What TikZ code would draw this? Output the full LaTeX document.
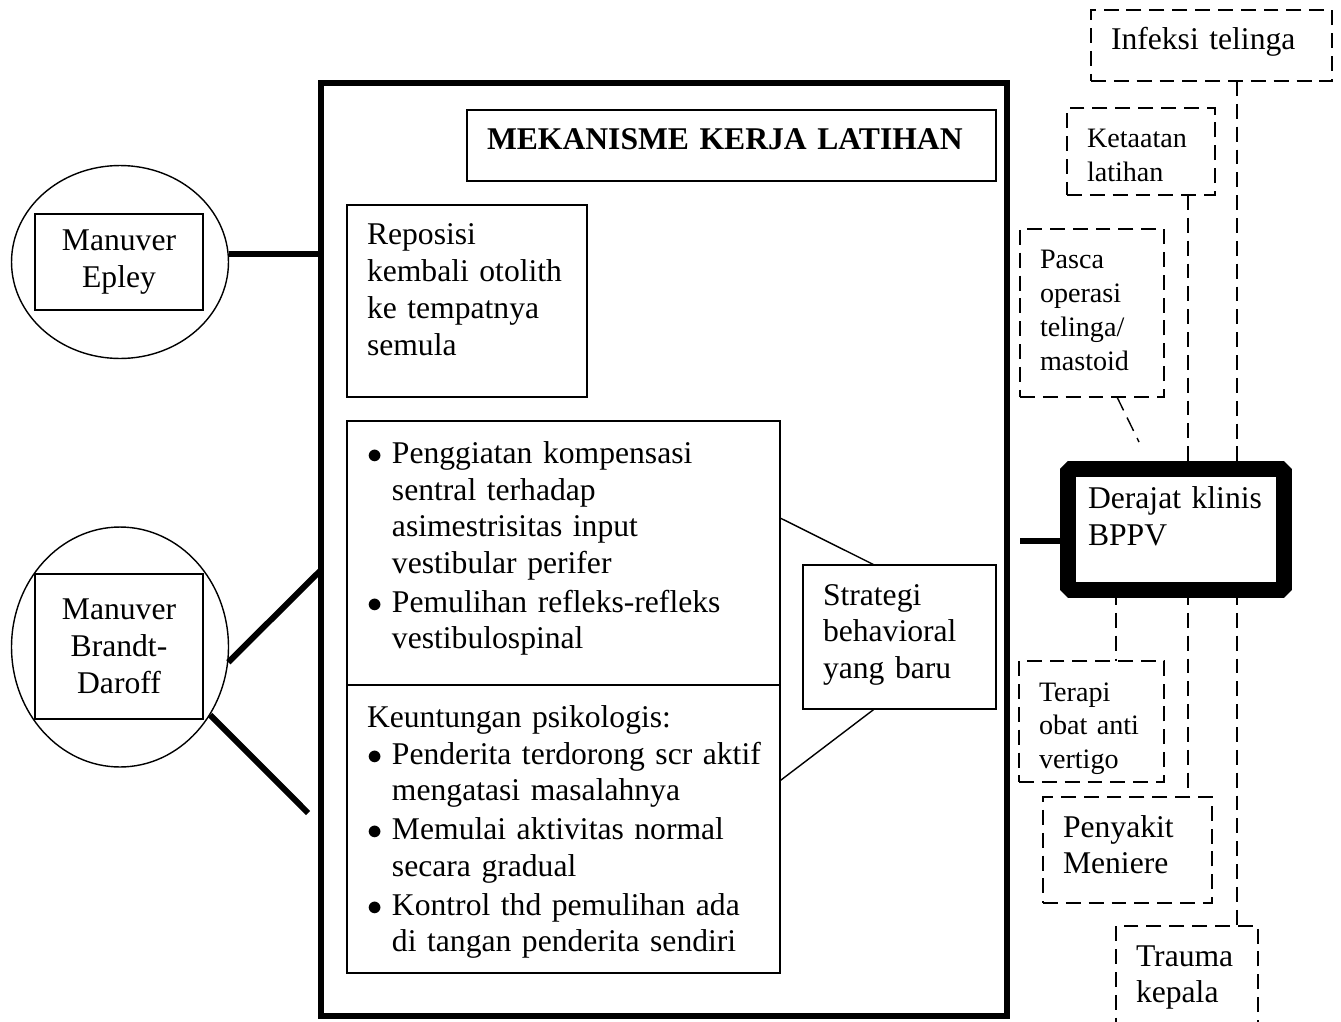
\documentclass[tikz,border=0pt]{standalone}
\usepackage{fontspec}
\setmainfont{Liberation Serif}
\usetikzlibrary{calc,shapes.geometric}
\newcommand{\bul}{\makebox[0.5cm][l]{$\bullet$}}
\newcommand{\cont}{\hspace*{0.5cm}}

\begin{document}
\begin{tikzpicture}[
        x=0.02cm, y=-0.02cm,
        box/.style={rectangle, draw=black, line width=0.8pt, anchor=north west, align=left, inner xsep=0.4cm, inner ysep=0.3cm, outer sep=0pt, text height=0.5cm, font=\fontsize{18}{21}\selectfont},
        dbox/.style={box, dash pattern=on 8.5pt off 4.5pt},
        smalltext/.style={font=\fontsize{16}{19.2}\selectfont},
        listtext/.style={font=\fontsize{18}{20.7}\selectfont},
        bigbox/.style={rectangle, draw=black, line width=0.12cm, outer sep=0pt},
        oval/.style={ellipse, draw=black, line width=0.8pt, inner sep=0pt},
        mbox/.style={rectangle, draw=black, line width=0.8pt, align=center, inner sep=0pt, font=\fontsize{18}{21}\selectfont},
        link/.style={line width=0.12cm},
        tline/.style={line width=0.8pt},
        dlink/.style={line width=0.8pt, dash pattern=on 8.5pt off 4.5pt}
    ]
        \useasboundingbox (0,0) rectangle (1341,1021);

        % Mechanism frame
        \node (mech) [bigbox, minimum width=13.72cm, minimum height=18.66cm] at (664,549.5) {};

        \node (title) [box, text width=9.78cm, text depth=0.32cm] at (467,110) {\textbf{MEKANISME KERJA LATIHAN}};
        \node (repo) [box, text width=4.0cm, text depth=2.74cm] at (347,205) {Reposisi\\kembali otolith\\ke tempatnya\\semula};
        \node (list1) [box, listtext, text width=7.86cm, text height=0.56cm, text depth=4.12cm] at (347,421) {\bul Penggiatan kompensasi\\
            \cont sentral terhadap\\
            \cont asimestrisitas input\\
            \cont vestibular perifer\\[1.5pt]
            \bul Pemulihan refleks-refleks\\
            \cont vestibulospinal};
        \node (list2) [box, listtext, text width=7.86cm, text height=0.56cm, text depth=4.6cm] at (list1.south west) {Keuntungan psikologis:\\
            \bul \mbox{Penderita terdorong scr aktif}\\
            \cont mengatasi masalahnya\\[1.5pt]
            \bul Memulai aktivitas normal\\
            \cont secara gradual\\[1.5pt]
            \bul Kontrol thd pemulihan ada\\
            \cont di tangan penderita sendiri};
        \node (strat) [box, text width=3.06cm, text depth=1.78cm] at (803,565) {Strategi\\behavioral\\yang baru};

        % Maneuvers
        \node (epleyE) [oval, minimum width=4.34cm, minimum height=3.86cm] at (120,262) {};
        \node (epley) [mbox, minimum width=3.36cm, minimum height=1.92cm] at (119,262) {Manuver\\Epley};
        \node (brandtE) [oval, minimum width=4.34cm, minimum height=4.8cm] at (120,647) {};
        \node (brandt) [mbox, minimum width=3.36cm, minimum height=2.9cm] at (119,646.5) {Manuver\\Brandt-\\Daroff};

        % Outcome and factors
        \node (bppv) [box, line width=0.32cm, line join=bevel, text width=3.52cm, text depth=1.32cm] at (1068,469) {Derajat klinis\\BPPV};
        \node (infeksi) [dbox, text width=4.02cm, text depth=0.32cm] at (1091,10) {Infeksi telinga};
        \node (ketaatan) [dbox, smalltext, text width=2.16cm, text depth=0.64cm] at (1067,108) {Ketaatan\\latihan};
        \node (pasca) [dbox, smalltext, text width=2.08cm, text depth=2.26cm] at (1020,229) {Pasca\\operasi\\telinga/\\mastoid};
        \node (terapi) [dbox, smalltext, text width=2.1cm, text depth=1.32cm] at (1019,661) {Terapi\\obat anti\\vertigo};
        \node (penyakit) [dbox, text width=2.58cm, text depth=1.02cm] at (1043,797) {Penyakit\\Meniere};
        \node (trauma) [dbox, text width=2.04cm, text depth=0.98cm] at (1116,926) {Trauma\\kepala};

        \coordinate (laneT) at (1116,0);
        \coordinate (laneK) at (1188,0);
        \coordinate (laneI) at (1237,0);
        \coordinate (pascaEnd) at (1139,442);
        \coordinate (bdIn) at (321,570);
        \coordinate (bdOut) at (308,813);
        \coordinate (bppvIn) at (1020,541);

        % Connections
        \draw[link] (epleyE.4) -- (epleyE.4 -| mech.west);
        \draw[link] (brandtE.-8) -- (bdIn);
        \draw[link] (brandtE.-37) -- (bdOut);
        \draw[link] (bppvIn) -- (bppvIn -| bppv.west);

        \draw[tline] ($(list1.north east)!0.367!(list1.south east)$) -- ($(strat.north west)!0.37!(strat.north east)$);
        \draw[tline] ($(list2.north east)!0.333!(list2.south east)$) -- ($(strat.south west)!0.37!(strat.south east)$);

        \draw[dlink] (infeksi.south -| laneI) -- (bppv.north -| laneI);
        \draw[dlink] (bppv.south -| laneI) -- (trauma.north -| laneI);
        \draw[dlink] (ketaatan.south -| laneK) -- (bppv.north -| laneK);
        \draw[dlink] (bppv.south -| laneK) -- (penyakit.north -| laneK);
        \draw[dlink] (bppv.south -| laneT) -- (terapi.north -| laneT);
        \draw[dlink] ([xshift=0.5cm]pasca.south) -- (pascaEnd);
    \end{tikzpicture}
\end{document}
